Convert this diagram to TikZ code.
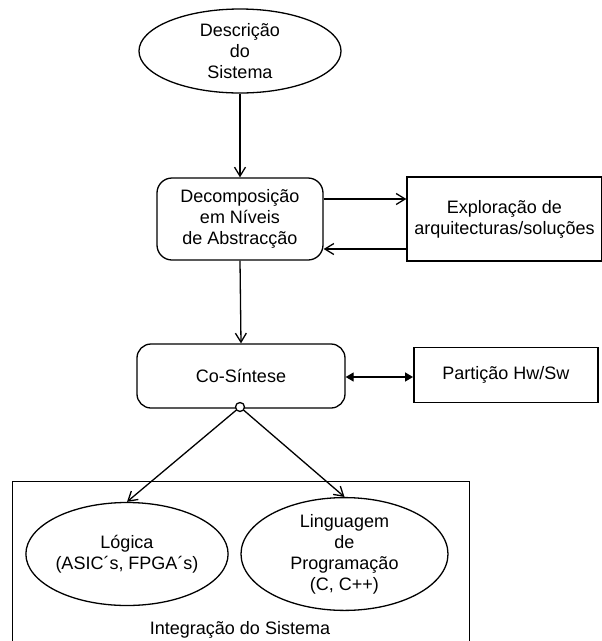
\documentclass[tikz,border=0pt]{standalone}
\usepackage{fontspec}
\setmainfont{Liberation Sans}
\usetikzlibrary{shapes.geometric,arrows.meta}
\begin{document}
\begin{tikzpicture}[x=1pt,y=-1pt,
  every node/.style={font=\fontsize{18}{21}\selectfont, align=center, inner sep=0pt},
  oval/.style={ellipse, draw, line width=1.3pt},
  rbox/.style={rectangle, draw, rounded corners=15pt, line width=1.3pt},
  sbox/.style={rectangle, draw, line width=1.3pt},
  arr/.style={line width=1.3pt, -{Straight Barb[length=9pt,width=11pt,line width=1.3pt]}},
  darr/.style={line width=1.3pt, {Triangle[length=8pt,width=9pt]}-{Triangle[length=8pt,width=9pt]}}
]
\useasboundingbox (0,0) rectangle (602,641);

% top-level flow
\node[oval, minimum width=202pt, minimum height=84pt] (desc) at (240,51) {Descrição\\do\\Sistema};
\node[rbox, minimum width=166pt, minimum height=82pt] (decomp) at (240,219) {Decomposição\\em Níveis\\de Abstracção};
\node[sbox, minimum width=195pt, minimum height=84pt] (explor) at (504.5,219) {Exploração de\\arquitecturas/soluções};
\node[rbox, rounded corners=14pt, minimum width=208pt, minimum height=64pt] (cosint) at (241,376) {Co-Síntese};
\node[sbox, line width=1.9pt, minimum width=184pt, minimum height=55pt] (part) at (506,375) {Partição Hw/Sw};

% integration block
\node[sbox, anchor=north west, minimum width=457pt, minimum height=175pt] (integ) at (12,481) {};
\node[oval, minimum width=188pt, minimum height=103pt] (logica) at (127,554) {Lógica\\(ASIC´s, FPGA´s)};
\node[oval, minimum width=207pt, minimum height=104pt] (ling) at (344.5,554) {Linguagem\\de\\Programação\\(C, C++)};
\node (integlbl) at (240,630) {Integração do Sistema};

% connectors
\draw[arr] (desc.south) -- (decomp.north);
\draw[arr] ([yshift=20pt]decomp.east) -- ([yshift=20pt]decomp.east -| explor.west);
\draw[arr] ([yshift=-30pt]explor.west) -- ([yshift=-30pt]explor.west -| decomp.east);
\draw[arr] (decomp.south) -- (cosint.north);
\draw[darr] ([yshift=-1pt]cosint.east) -- ([yshift=-1pt]cosint.east -| part.west);
\node[circle, draw, fill=white, line width=1.3pt, minimum size=9pt] (knot) at (240,407) {};
\draw[arr] (knot) -- (logica.north);
\draw[arr] (knot) -- (ling.north);
\end{tikzpicture}
\end{document}
